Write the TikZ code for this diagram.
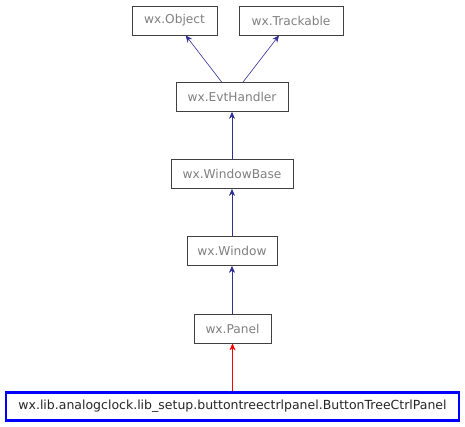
\documentclass[tikz,border=0pt]{standalone}
\usepackage{fontspec}
\setmainfont{DejaVu Sans}
\usetikzlibrary{arrows.meta}
\definecolor{txtgray}{HTML}{7F7F7F}
\definecolor{edgeblue}{HTML}{2E2E96}
\tikzset{
  cls/.style={draw=black!75, line width=0.8pt, inner sep=0pt, text=txtgray, font=\fontsize{12.2}{14}\selectfont, minimum height=29pt},
  main/.style={draw=blue, line width=2.6pt, inner sep=0pt, text=black!85, font=\fontsize{12.5}{14}\selectfont, minimum height=28pt},
  inh/.style={draw=edgeblue, line width=0.6pt, -{Stealth[length=7pt,width=6pt]}},
  inhred/.style={draw=red, line width=0.6pt, -{Stealth[length=7pt,width=6pt]}}
}
\begin{document}
\begin{tikzpicture}[x=1pt,y=-1pt]
\useasboundingbox (0,0) rectangle (465,427);
\node[cls, minimum width=85pt] (obj) at (174.5,20.5) {wx.Object};
\node[cls, minimum width=104pt] (trk) at (291,20.5) {wx.Trackable};
\node[cls, minimum width=112pt] (evt) at (232,97) {wx.EvtHandler};
\node[cls, minimum width=122pt] (wb) at (232,174) {wx.WindowBase};
\node[cls, minimum width=90pt] (win) at (232,251) {wx.Window};
\node[cls, minimum width=77pt] (pan) at (232.5,328.5) {wx.Panel};
\node[main, minimum width=453pt] (btc) at (232.5,406.5) {wx.lib.analogclock.lib\_setup.buttontreectrlpanel.ButtonTreeCtrlPanel};
\draw[inh] ([xshift=-10.3pt]evt.north) -- ([xshift=11.2pt]obj.south);
\draw[inh] ([xshift=11pt]evt.north) -- ([xshift=-12pt]trk.south);
\draw[inh] (wb) -- (evt);
\draw[inh] (win) -- (wb);
\draw[inh] (pan.north -| win) -- (win);
\draw[inhred] (btc.north -| pan) -- (pan);
\end{tikzpicture}
\end{document}
